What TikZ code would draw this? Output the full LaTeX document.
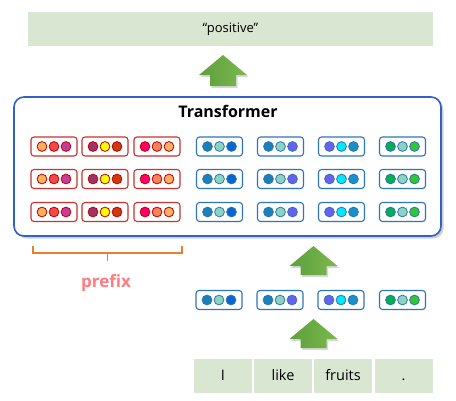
\documentclass[tikz,border=0pt]{standalone}
\usepackage{fontspec}
\setmainfont{Open Sans}
\definecolor{cellgreen}{HTML}{D9E6D2}
\definecolor{tfblue}{HTML}{3060C8}
\definecolor{redline}{HTML}{C83232}
\definecolor{redring}{HTML}{C00000}
\definecolor{blueline}{HTML}{2E75B6}
\definecolor{bluering}{HTML}{2E75B6}
\definecolor{arrowL}{HTML}{5C9F3C}
\definecolor{arrowR}{HTML}{7DB84E}
\definecolor{brk}{HTML}{ED7D31}
\definecolor{pfx}{HTML}{FF7C80}
\definecolor{rA}{HTML}{FBB15E}
\definecolor{rB}{HTML}{F2484A}
\definecolor{rC}{HTML}{C53C99}
\definecolor{rD}{HTML}{9C3466}
\definecolor{rE}{HTML}{FFFF00}
\definecolor{rF}{HTML}{CC3A0E}
\definecolor{rG}{HTML}{FF0066}
\definecolor{rH}{HTML}{F5845A}
\definecolor{rI}{HTML}{F9B062}
\definecolor{bA}{HTML}{1A80B8}
\definecolor{bB}{HTML}{8CD3C3}
\definecolor{bC}{HTML}{0A66CF}
\definecolor{bD}{HTML}{6A60F0}
\definecolor{bE}{HTML}{00E8FF}
\definecolor{bF}{HTML}{1A90C8}
\definecolor{bG}{HTML}{00B050}
\definecolor{bH}{HTML}{33C633}
\newcommand\vecbox[7]{%
  \node[vbox, draw=#4line] (#1) at (#2,#3) {};
  \node[vdot, fill=#5, draw=#4ring] (#1-1) at ([xshift=-12pt]#1.center) {};
  \node[vdot, fill=#6, draw=#4ring] (#1-2) at (#1.center) {};
  \node[vdot, fill=#7, draw=#4ring] (#1-3) at ([xshift=12pt]#1.center) {};
}
\newcommand\blockarrow[5]{% cx, tip, base, bottom, name
  \coordinate (#5) at (#1,#2);
  \fill[black!30, opacity=0.5, shift={(1.5pt,-2pt)}]
    (#1-24,#3) -- (#1,#2) -- (#1+24,#3) -- (#1+13,#3) -- (#1+13,#4) -- (#1-13,#4) -- (#1-13,#3) -- cycle;
  \shade[left color=arrowL, right color=arrowR]
    (#1-24,#3) -- (#1,#2) -- (#1+24,#3) -- (#1+13,#3) -- (#1+13,#4) -- (#1-13,#4) -- (#1-13,#3) -- cycle;
}
\begin{document}
\begin{tikzpicture}[x=1pt,y=-1pt,
  cell/.style={fill=cellgreen, inner sep=0pt, outer sep=0pt},
  tokcell/.style={cell, minimum width=58pt, minimum height=34pt, text height=11pt, text depth=3pt, font=\fontsize{14.5}{16}\selectfont},
  vbox/.style={rounded corners=3pt, line width=1.1pt, fill=white, minimum width=46pt, minimum height=19pt, inner sep=0pt},
  vdot/.style={circle, line width=0.8pt, minimum size=9.8pt, inner sep=0pt}]
\useasboundingbox (0,0) rectangle (456,400);
% output
\node[cell, minimum width=405pt, minimum height=34pt, font=\fontsize{13}{15}\selectfont] (out) at (230.5,29) {“positive”};
\blockarrow{223}{55}{75}{86}{a1}
% transformer
\fill[black!18, rounded corners=10pt] (16.5,99.5) rectangle (443.5,238.5);
\node[draw=tfblue, line width=1.6pt, fill=white, rounded corners=10pt, minimum width=427pt, minimum height=139pt, inner sep=0pt] (tf) at (227.5,166.5) {};
\node[font=\fontsize{16}{18}\selectfont\bfseries] (tft) at (228,111) {Transformer};
% rows
\foreach \y [count=\r] in {146.5,179,212}{
  \vecbox{p1-\r}{54}{\y}{red}{rA}{rB}{rC}
  \vecbox{p2-\r}{105}{\y}{red}{rD}{rE}{rF}
  \vecbox{p3-\r}{157}{\y}{red}{rG}{rH}{rI}
  \vecbox{h1-\r}{219.5}{\y}{blue}{bA}{bB}{bC}
  \vecbox{h2-\r}{280.5}{\y}{blue}{bA}{bB}{bD}
  \vecbox{h3-\r}{341.5}{\y}{blue}{bD}{bE}{bF}
  \vecbox{h4-\r}{402.5}{\y}{blue}{bG}{bB}{bH}
}
% prefix bracket
\coordinate (bl) at (33,246);
\coordinate (br) at (182,246);
\coordinate (bm) at (107.5,261);
\draw[brk, line width=1.2pt] (bl) -- (33,253) -- (182,253) -- (br);
\draw[brk, line width=1.2pt] (107.5,253) -- (bm);
\node[pfx, font=\fontsize{17}{19}\selectfont\bfseries] (prefix) at (106,283) {prefix};
% embeddings
\blockarrow{313.5}{246}{266}{275}{a2}
\vecbox{e1}{219}{300}{blue}{bA}{bB}{bC}
\vecbox{e2}{280}{300}{blue}{bA}{bB}{bD}
\vecbox{e3}{341}{300}{blue}{bD}{bE}{bF}
\vecbox{e4}{402.5}{300}{blue}{bG}{bB}{bH}
\blockarrow{313.5}{319}{339}{348}{a3}
% tokens
\node[tokcell] (t1) at (223,376) {I};
\node[tokcell] (t2) at (283,376) {like};
\node[tokcell] (t3) at (343,376) {fruits};
\node[tokcell] (t4) at (403.5,376) {.};
\end{tikzpicture}
\end{document}
